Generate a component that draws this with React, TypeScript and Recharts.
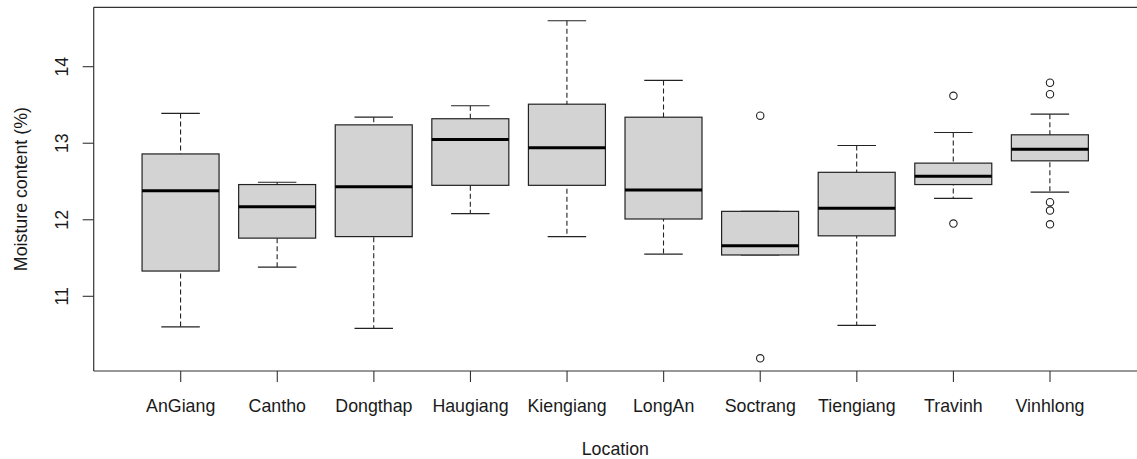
import React from "react";
import { ComposedChart, Bar, Scatter, XAxis, YAxis, ReferenceLine } from "recharts";

const categories = ["AnGiang", "Cantho", "Dongthap", "Haugiang", "Kiengiang", "LongAn", "Soctrang", "Tiengiang", "Travinh", "Vinhlong"];
const whiskerLow = [10.6, 11.38, 10.58, 12.08, 11.78, 11.55, 11.54, 10.62, 12.28, 12.36];
const lowerQuartile = [11.33, 11.76, 11.78, 12.45, 12.45, 12.01, 11.54, 11.79, 12.46, 12.77];
const medians = [12.38, 12.17, 12.43, 13.05, 12.94, 12.39, 11.66, 12.15, 12.57, 12.92];
const upperQuartile = [12.86, 12.46, 13.24, 13.32, 13.51, 13.34, 12.11, 12.62, 12.74, 13.11];
const whiskerHigh = [13.39, 12.49, 13.34, 13.49, 14.6, 13.82, 12.11, 12.97, 13.14, 13.38];
const outliers: number[][] = [[], [], [], [], [], [], [13.36, 10.19], [], [13.62, 11.95], [13.79, 13.64, 12.23, 12.12, 11.94]];
const yTicks = [11, 12, 13, 14];
const yDomain: [number, number] = [10.024, 14.776];
const xLabel = "Location";
const yLabel = "Moisture content (%)";

const OUT_KEYS = ["o0", "o1", "o2", "o3", "o4"];

const data = categories.map((name, i) => {
  const row: any = {
    name,
    whisker: [whiskerLow[i], whiskerHigh[i]],
    box: [lowerQuartile[i], upperQuartile[i]],
    median: [medians[i], medians[i]],
  };
  OUT_KEYS.forEach((k, j) => {
    row[k] = outliers[i][j] ?? null;
  });
  return row;
});

const FONT = "'Liberation Sans', Arial, Helvetica, sans-serif";
const FS = 17.8;
const PAD = { left: 38.7, right: 38.7 };

const WhiskerShape = (props: any) => {
  const { x, y, width, height } = props;
  if (x == null || y == null) return <g />;
  const top = Math.min(y, y + height);
  const bottom = Math.max(y, y + height);
  const cx = x + width / 2;
  const hw = width / 4;
  return (
    <g>
      <line x1={cx} x2={cx} y1={top} y2={bottom} stroke="#222" strokeWidth={1.1} strokeDasharray="5 3" />
      <line x1={cx - hw} x2={cx + hw} y1={top} y2={top} stroke="#222" strokeWidth={1.2} />
      <line x1={cx - hw} x2={cx + hw} y1={bottom} y2={bottom} stroke="#222" strokeWidth={1.2} />
    </g>
  );
};

const BoxShape = (props: any) => {
  const { x, y, width, height } = props;
  if (x == null || y == null) return <g />;
  const top = Math.min(y, y + height);
  const h = Math.abs(height);
  return <rect x={x} y={top} width={width} height={h} fill="#d3d3d3" stroke="#222" strokeWidth={1.2} />;
};

const MedianShape = (props: any) => {
  const { x, y, width } = props;
  if (x == null || y == null) return <g />;
  return <line x1={x} x2={x + width} y1={y} y2={y} stroke="#000" strokeWidth={3} />;
};

const makeOutlierShape = (key: string) => (props: any) => {
  const { cx, cy, payload } = props;
  if (!payload || payload[key] == null || cx == null || cy == null || isNaN(cy)) return <g />;
  return <circle cx={cx} cy={cy} r={3.7} fill="none" stroke="#222" strokeWidth={1.1} />;
};

const XTick = (props: any) => {
  const { x, y, payload } = props;
  return (
    <text x={x} y={y + 27.7} textAnchor="middle" fontFamily={FONT} fontSize={FS} fill="#1a1a1a">
      {payload.value}
    </text>
  );
};

const YTick = (props: any) => {
  const { x, y, payload } = props;
  return (
    <text
      transform={`translate(${x - 12.7},${y}) rotate(-90)`}
      textAnchor="middle"
      fontFamily={FONT}
      fontSize={FS}
      fill="#1a1a1a"
    >
      {payload.value}
    </text>
  );
};

const YLabel = (props: any) => {
  const vb = props.viewBox || {};
  const cx = (vb.x ?? 13.7) + 13.3;
  const cy = (vb.y ?? 7.3) + (vb.height ?? 363.7) / 2;
  return (
    <text transform={`translate(${cx},${cy}) rotate(-90)`} textAnchor="middle" fontFamily={FONT} fontSize={FS} fill="#1a1a1a">
      {yLabel}
    </text>
  );
};

const XLabel = (props: any) => {
  const vb = props.viewBox || {};
  const cx = (vb.x ?? 93.7) + (vb.width ?? 1043.3) / 2;
  const cy = (vb.y ?? 371) + 84;
  return (
    <text x={cx} y={cy} textAnchor="middle" fontFamily={FONT} fontSize={FS} fill="#1a1a1a">
      {xLabel}
    </text>
  );
};

export default function App() {
  return (
    <div style={{ width: 1137, height: 459, background: "#fff" }}>
      <style>{`body{margin:0;background:#fff;}`}</style>
      <ComposedChart
        width={1137}
        height={459}
        data={data}
        margin={{ top: 7.3, right: 0, bottom: 28, left: 13.7 }}
        barCategoryGap="10%"
      >
        <XAxis
          xAxisId="main"
          dataKey="name"
          type="category"
          height={60}
          padding={PAD}
          tickSize={11}
          tickLine={{ stroke: "#333", strokeWidth: 1.1 }}
          axisLine={{ stroke: "#333", strokeWidth: 1.2 }}
          tick={<XTick />}
          interval={0}
          label={<XLabel />}
        />
        <XAxis xAxisId="box" dataKey="name" type="category" hide height={0} padding={PAD} />
        <XAxis xAxisId="med" dataKey="name" type="category" hide height={0} padding={PAD} />
        <YAxis
          type="number"
          domain={yDomain}
          allowDataOverflow
          ticks={yTicks}
          width={80}
          tickSize={11}
          tickLine={{ stroke: "#333", strokeWidth: 1.1 }}
          axisLine={{ stroke: "#333", strokeWidth: 1.2 }}
          tick={<YTick />}
          label={<YLabel />}
        />
        <ReferenceLine xAxisId="main" y={yDomain[1]} stroke="#333" strokeWidth={1.2} ifOverflow="visible" />
        <Bar xAxisId="main" dataKey="whisker" shape={<WhiskerShape />} isAnimationActive={false} />
        <Bar xAxisId="box" dataKey="box" shape={<BoxShape />} isAnimationActive={false} />
        <Bar xAxisId="med" dataKey="median" shape={<MedianShape />} isAnimationActive={false} />
        {OUT_KEYS.map((k) => (
          <Scatter key={k} xAxisId="main" dataKey={k} shape={makeOutlierShape(k)} isAnimationActive={false} />
        ))}
      </ComposedChart>
    </div>
  );
}
